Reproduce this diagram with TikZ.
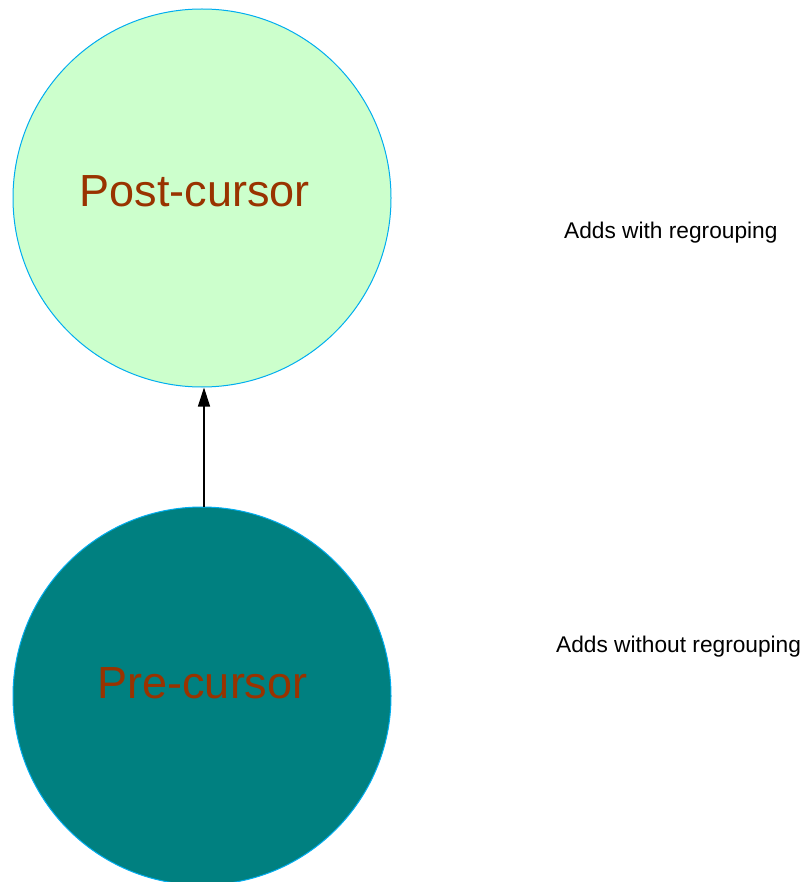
\documentclass[tikz,border=0pt]{standalone}
\usepackage{fontspec}
\setmainfont{Liberation Sans}
\usetikzlibrary{arrows.meta}
\definecolor{paleGreen}{HTML}{CCFFCC}
\definecolor{tealFill}{HTML}{008080}
\definecolor{rust}{HTML}{993300}
\tikzset{
  stage/.style={circle, draw=cyan, line width=1pt, inner sep=0pt, minimum size=378pt},
  stagetext/.style={anchor=base, text=rust, font=\fontsize{45}{50}\selectfont, inner sep=0pt},
  note/.style={anchor=base west, text=black, font=\fontsize{22.7}{26}\selectfont, inner sep=0pt},
  link/.style={draw=black, line width=1.2pt, -{Triangle[length=19pt,width=12pt]}}
}
\begin{document}
\begin{tikzpicture}[x=1pt, y=-1pt]
  \useasboundingbox (0,0) rectangle (807,882);
  % two stages
  \node[stage, fill=paleGreen] (post) at (202,198) {};
  \node[stage, fill=tealFill] (pre) at (202,696) {};
  \node[stagetext] (posttxt) at (194.5,207) {Post-cursor};
  \node[stagetext] (pretxt) at (202.5,698) {Pre-cursor};
  % transition
  \draw[link] (pre.north -| 204,0) -- (post.south -| 204,0);
  % side notes
  \node[note] (withnote) at (564,239) {Adds with regrouping};
  \node[note] (withoutnote) at (556,652) {Adds without regrouping};
\end{tikzpicture}
\end{document}
